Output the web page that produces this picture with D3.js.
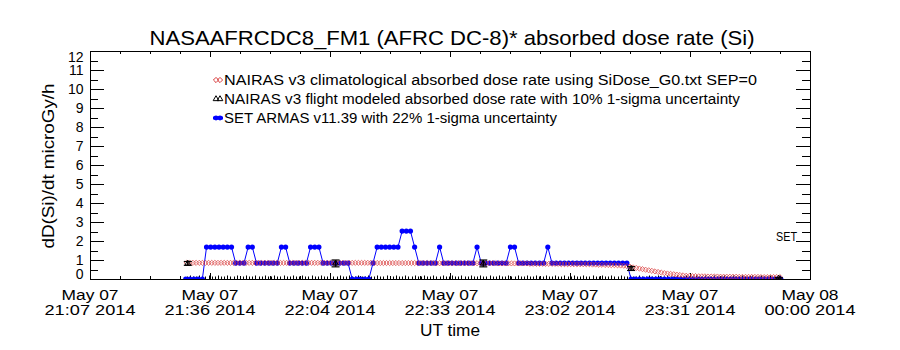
<!DOCTYPE html>
<html>
<head>
<meta charset="utf-8">
<script src="https://cdn.jsdelivr.net/npm/d3@7"></script>
<style>
body { margin: 0; background: #fff; }
text { font-family: "Liberation Sans", Arial, sans-serif; fill: #000; }
</style>
</head>
<body>
<div id="chart"></div>
<script>
// ---- data ----
var titleText = "NASAAFRCDC8_FM1 (AFRC DC-8)* absorbed dose rate (Si)";
var yTitle = "dD(Si)/dt microGy/h";
var xTitle = "UT time";

var xTickTimes = ["21:07:00", "21:35:50", "22:04:40", "22:33:30", "23:02:20", "23:31:10", "24:00:00"];
var xTickDays = ["May 07", "May 07", "May 07", "May 07", "May 07", "May 07", "May 08"];
var xTickClock = ["21:07 2014", "21:36 2014", "22:04 2014", "22:33 2014", "23:02 2014", "23:31 2014", "00:00 2014"];
var yTickValues = [0, 1, 2, 3, 4, 5, 6, 7, 8, 9, 10, 11, 12];

var legendLabels = [
    "NAIRAS v3 climatological absorbed dose rate using SiDose_G0.txt SEP=0",
    "NAIRAS v3 flight modeled absorbed dose rate with 10% 1-sigma uncertainty",
    "SET ARMAS v11.39 with 22% 1-sigma uncertainty"
];

// SET ARMAS, one value a minute from armasStart
var armasStart = "21:30:00";
var armasValues = [
    0, 0, 0, 0, 0, 1.68, 1.68, 1.68, 1.68, 1.68,
    1.68, 1.68, 0.84, 0.84, 0.84, 1.68, 1.68, 0.84, 0.84, 0.84,
    0.84, 0.84, 0.84, 1.68, 1.68, 0.84, 0.84, 0.84, 0.84, 0.84,
    1.68, 1.68, 1.68, 0.84, 0.84, 0.84, 0.84, 0.84, 0.84, 0.84,
    0, 0, 0, 0, 0, 0.84, 1.68, 1.68, 1.68, 1.68,
    1.68, 1.68, 2.52, 2.52, 2.52, 1.68, 0.84, 0.84, 0.84, 0.84,
    0.84, 1.68, 0.84, 0.84, 0.84, 0.84, 0.84, 0.84, 0.84, 0.84,
    1.68, 0.84, 0.84, 0.84, 0.84, 0.84, 0.84, 0.84, 1.68, 1.68,
    0.84, 0.84, 0.84, 0.84, 0.84, 0.84, 0.84, 1.68, 0.84, 0.84,
    0.84, 0.84, 0.84, 0.84, 0.84, 0.84, 0.84, 0.84, 0.84, 0.84,
    0.84, 0.84, 0.84, 0.84, 0.84, 0.84, 0.84, 0, 0, 0,
    0, 0, 0, 0, 0, 0, 0, 0, 0, 0,
    0, 0, 0, 0, 0, 0, 0, 0, 0, 0,
    0, 0, 0, 0, 0, 0, 0, 0, 0, 0,
    0, 0, 0, 0
];

// NAIRAS climatological, one value every 45 s from climStart
var climStart = "21:30:15";
var climStepSec = 45;
var climValues = [
    0.85, 0.85, 0.85, 0.85, 0.85, 0.85, 0.85, 0.85, 0.85, 0.85,
    0.85, 0.85, 0.85, 0.85, 0.85, 0.85, 0.85, 0.85, 0.85, 0.85,
    0.85, 0.85, 0.85, 0.85, 0.85, 0.85, 0.85, 0.85, 0.85, 0.85,
    0.85, 0.85, 0.85, 0.85, 0.85, 0.85, 0.85, 0.85, 0.85, 0.85,
    0.85, 0.85, 0.85, 0.85, 0.85, 0.85, 0.85, 0.85, 0.85, 0.85,
    0.85, 0.85, 0.85, 0.85, 0.85, 0.85, 0.85, 0.85, 0.85, 0.85,
    0.84, 0.84, 0.84, 0.84, 0.84, 0.84, 0.84, 0.84, 0.84, 0.84,
    0.84, 0.84, 0.84, 0.84, 0.84, 0.84, 0.84, 0.84, 0.84, 0.84,
    0.83, 0.83, 0.83, 0.83, 0.83, 0.83, 0.83, 0.83, 0.83, 0.83,
    0.83, 0.83, 0.83, 0.83, 0.83, 0.83, 0.83, 0.83, 0.83, 0.83,
    0.82, 0.82, 0.82, 0.82, 0.82, 0.82, 0.82, 0.82, 0.82, 0.82,
    0.80, 0.80, 0.80, 0.80, 0.80, 0.80, 0.80, 0.80, 0.80, 0.80,
    0.78, 0.78, 0.78, 0.78, 0.78, 0.78, 0.78, 0.78, 0.78, 0.78,
    0.76, 0.76, 0.75, 0.75, 0.74, 0.74, 0.73, 0.73, 0.72, 0.71,
    0.70, 0.68, 0.65, 0.61, 0.58, 0.55, 0.52, 0.49, 0.46, 0.43,
    0.40, 0.37, 0.34, 0.31, 0.29, 0.27, 0.25, 0.23, 0.21, 0.19,
    0.17, 0.16, 0.15, 0.15, 0.14, 0.14, 0.14, 0.13, 0.13, 0.13,
    0.13, 0.12, 0.12, 0.12, 0.12, 0.12, 0.12, 0.11, 0.11, 0.11,
    0.11, 0.11, 0.11, 0.11, 0.10, 0.10, 0.10, 0.10, 0.10, 0.10,
    0.10
];

// NAIRAS flight modeled points with error bars
var flightTimes = ["21:30:30", "22:06:00", "22:41:30", "23:17:00", "23:52:30"];
var flightValues = [0.82, 0.82, 0.82, 0.55, 0.03];
var flightErrors = [0.1, 0.18, 0.18, 0.1, 0.04];

// ---- layout ----
var W = 900, H = 350;
var plot = { left: 90, right: 810, top: 51, bottom: 279 };
var red = "#d83a3a", blue = "#0000ff";

function hm(s) {
    var p = s.split(":").map(Number);
    return new Date(Date.UTC(2014, 4, 7, p[0], p[1], p[2] || 0));
}

var svg = d3.select("#chart").append("svg")
    .attr("width", W)
    .attr("height", H)
    .style("display", "block");

var majorDates = xTickTimes.map(hm);
var x = d3.scaleUtc()
    .domain([majorDates[0], majorDates[majorDates.length - 1]])
    .range([plot.left, plot.right]);
var y = d3.scaleLinear().domain([0, 12]).range([plot.bottom, plot.top]);

// minor ticks: 4 parts per x interval, half units on y
var minorDates = [];
for (var i = 0; i < majorDates.length - 1; i++) {
    var a = majorDates[i].getTime(), b = majorDates[i + 1].getTime();
    for (var m = 1; m < 4; m++) minorDates.push(new Date(a + (b - a) * m / 4));
}
var yMinor = d3.range(0.5, 12, 1);

function ticksOnly(g) {
    g.select(".domain").remove();
    g.selectAll("text").remove();
    g.selectAll("line").attr("stroke", "#000").attr("shape-rendering", "crispEdges");
}

// left / right
svg.append("g").attr("transform", "translate(" + plot.left + ",0)")
    .call(d3.axisRight(y).tickValues(yTickValues).tickSize(14)).call(ticksOnly);
svg.append("g").attr("transform", "translate(" + plot.left + ",0)")
    .call(d3.axisRight(y).tickValues(yMinor).tickSize(8)).call(ticksOnly);
svg.append("g").attr("transform", "translate(" + plot.right + ",0)")
    .call(d3.axisLeft(y).tickValues(yTickValues).tickSize(14)).call(ticksOnly);
svg.append("g").attr("transform", "translate(" + plot.right + ",0)")
    .call(d3.axisLeft(y).tickValues(yMinor).tickSize(8)).call(ticksOnly);

// top / bottom
svg.append("g").attr("transform", "translate(0," + plot.top + ")")
    .call(d3.axisBottom(x).tickValues(majorDates).tickSize(6)).call(ticksOnly);
svg.append("g").attr("transform", "translate(0," + plot.top + ")")
    .call(d3.axisBottom(x).tickValues(minorDates).tickSize(3)).call(ticksOnly);
svg.append("g").attr("transform", "translate(0," + plot.bottom + ")")
    .call(d3.axisTop(x).tickValues(majorDates).tickSize(6)).call(ticksOnly);
svg.append("g").attr("transform", "translate(0," + plot.bottom + ")")
    .call(d3.axisTop(x).tickValues(minorDates).tickSize(3)).call(ticksOnly);

// y labels
var yLab = svg.append("g").attr("transform", "translate(" + plot.left + ",0)")
    .call(d3.axisLeft(y).tickValues(yTickValues).tickSize(0).tickPadding(6.5));
yLab.select(".domain").remove();
yLab.attr("font-family", null).attr("font-size", null);
yLab.selectAll("text")
    .style("font-size", "14px")
    .attr("fill", "#000")
    .attr("transform", function (d) { return d === 0 ? "translate(0,-4.5)" : d === 12 ? "translate(0,6)" : null; });

// x labels, two lines each
var xLab = svg.append("g").selectAll("g")
    .data(majorDates)
    .enter().append("g")
    .attr("transform", function (d) { return "translate(" + x(d) + ",0)"; });
xLab.append("text")
    .attr("y", 299.5)
    .attr("text-anchor", "middle")
    .style("font-size", "15.5px")
    .attr("textLength", 57)
    .attr("lengthAdjust", "spacingAndGlyphs")
    .text(function (d, i) { return xTickDays[i]; });
xLab.append("text")
    .attr("y", 314.5)
    .attr("text-anchor", "middle")
    .style("font-size", "15.5px")
    .attr("textLength", 91)
    .attr("lengthAdjust", "spacingAndGlyphs")
    .text(function (d, i) { return xTickClock[i]; });

// titles
svg.append("text")
    .attr("x", 452).attr("y", 45)
    .attr("text-anchor", "middle")
    .style("font-size", "21px")
    .attr("textLength", 605)
    .attr("lengthAdjust", "spacingAndGlyphs")
    .text(titleText);

svg.append("text")
    .attr("transform", "translate(53.5,166) rotate(-90)")
    .attr("text-anchor", "middle")
    .style("font-size", "17px")
    .attr("textLength", 165)
    .attr("lengthAdjust", "spacingAndGlyphs")
    .text(yTitle);

svg.append("text")
    .attr("x", 450).attr("y", 336)
    .attr("text-anchor", "middle")
    .style("font-size", "16px")
    .attr("textLength", 60)
    .attr("lengthAdjust", "spacingAndGlyphs")
    .text(xTitle);

// SET tag on the right axis
svg.append("text")
    .attr("x", 797).attr("y", 241)
    .attr("text-anchor", "end")
    .style("font-size", "13.5px")
    .attr("textLength", 21)
    .attr("lengthAdjust", "spacingAndGlyphs")
    .text("SET");

// ---- data marks ----
svg.append("clipPath").attr("id", "clip")
    .append("rect")
    .attr("x", plot.left).attr("y", plot.top)
    .attr("width", plot.right - plot.left)
    .attr("height", plot.bottom - plot.top);
var marks = svg.append("g").attr("clip-path", "url(#clip)");

var armas = armasValues.map(function (v, i) {
    return { t: new Date(hm(armasStart).getTime() + i * 60000), v: v };
});
var clim = climValues.map(function (v, i) {
    return { t: new Date(hm(climStart).getTime() + i * climStepSec * 1000), v: v };
});
var flight = flightTimes.map(function (t, i) {
    return { t: hm(t), v: flightValues[i], e: flightErrors[i] };
});

// flight model samples at the bottom
marks.selectAll(".fz")
    .data(clim)
    .enter().append("line")
    .attr("x1", function (d) { return Math.round(x(d.t)) + 0.5; })
    .attr("x2", function (d) { return Math.round(x(d.t)) + 0.5; })
    .attr("y1", plot.bottom)
    .attr("y2", function (d, i) { return plot.bottom - (i % 3 === 1 ? 3.5 : 2.5); })
    .attr("stroke", "#000")
    .attr("stroke-width", 1);

// ARMAS line and dots
marks.append("path")
    .datum(armas)
    .attr("fill", "none")
    .attr("stroke", blue)
    .attr("stroke-width", 1)
    .attr("d", d3.line().x(function (d) { return x(d.t); }).y(function (d) { return y(d.v); }));
marks.selectAll(".armas")
    .data(armas)
    .enter().append("circle")
    .attr("cx", function (d) { return x(d.t); })
    .attr("cy", function (d) { return y(d.v); })
    .attr("r", 2.6)
    .attr("fill", blue);

// climatological diamonds
var diamond = "M0,-2.6L2.6,0L0,2.6L-2.6,0Z";
marks.selectAll(".clim")
    .data(clim)
    .enter().append("path")
    .attr("d", diamond)
    .attr("transform", function (d) { return "translate(" + x(d.t) + "," + y(d.v) + ")"; })
    .attr("fill", "none")
    .attr("stroke", red)
    .attr("stroke-opacity", 0.8)
    .attr("stroke-width", 0.9);

// flight model with error bars
var fg = marks.selectAll(".flight")
    .data(flight)
    .enter().append("g")
    .attr("transform", function (d) { return "translate(" + x(d.t) + ",0)"; });
fg.append("line")
    .attr("y1", function (d) { return y(d.v - d.e); })
    .attr("y2", function (d) { return y(d.v + d.e); })
    .attr("stroke", "#000").attr("stroke-width", 1.5);
fg.append("line")
    .attr("x1", -4).attr("x2", 4)
    .attr("y1", function (d) { return y(d.v - d.e); })
    .attr("y2", function (d) { return y(d.v - d.e); })
    .attr("stroke", "#000").attr("stroke-width", 1.2);
fg.append("line")
    .attr("x1", -4).attr("x2", 4)
    .attr("y1", function (d) { return y(d.v + d.e); })
    .attr("y2", function (d) { return y(d.v + d.e); })
    .attr("stroke", "#000").attr("stroke-width", 1.2);
fg.append("path")
    .attr("d", d3.symbol(d3.symbolTriangle, 14))
    .attr("transform", function (d) { return "translate(0," + y(d.v) + ")"; })
    .attr("fill", "none")
    .attr("stroke", "#000")
    .attr("stroke-width", 1);

// frame
svg.append("rect")
    .attr("x", plot.left + 0.5).attr("y", plot.top + 0.5)
    .attr("width", plot.right - plot.left)
    .attr("height", plot.bottom - plot.top)
    .attr("fill", "none")
    .attr("stroke", "#000")
    .attr("stroke-width", 1)
    .attr("shape-rendering", "crispEdges");

// ---- legend ----
var legendY = [80, 99, 118];
var legendLen = [533, 516, 333];
var lg = svg.append("g");
legendLabels.forEach(function (label, i) {
    lg.append("text")
        .attr("x", 224).attr("y", legendY[i] + 5)
        .style("font-size", "14px")
        .attr("textLength", legendLen[i])
        .attr("lengthAdjust", "spacingAndGlyphs")
        .text(label);
});
[216, 220].forEach(function (cx) {
    lg.append("path").attr("d", diamond)
        .attr("transform", "translate(" + cx + "," + legendY[0] + ")")
        .attr("fill", "none").attr("stroke", red).attr("stroke-width", 1);
    lg.append("path").attr("d", d3.symbol(d3.symbolTriangle, 14))
        .attr("transform", "translate(" + cx + "," + legendY[1] + ")")
        .attr("fill", "none").attr("stroke", "#000").attr("stroke-width", 1);
    lg.append("circle").attr("cx", cx).attr("cy", legendY[2]).attr("r", 2.4).attr("fill", blue);
});
lg.append("line")
    .attr("x1", 213).attr("x2", 223)
    .attr("y1", legendY[2]).attr("y2", legendY[2])
    .attr("stroke", blue).attr("stroke-width", 3);
</script>
</body>
</html>
